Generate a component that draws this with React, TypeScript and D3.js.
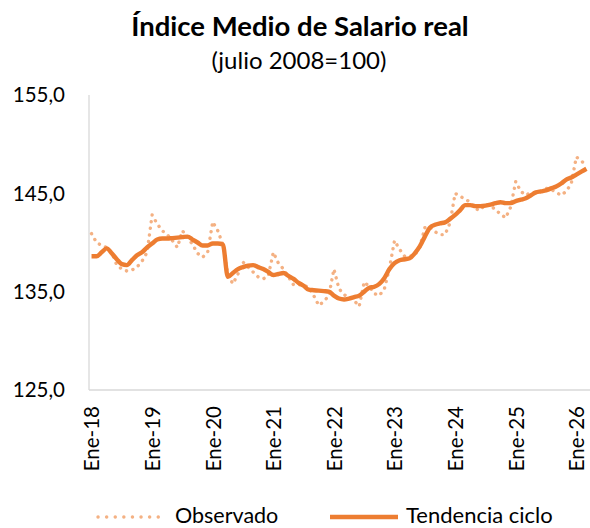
import React from "react";
import * as d3 from "d3";

const monthCount = 99; // Ene-18 .. Mar-26
const tickLabels = ["Ene-18", "Ene-19", "Ene-20", "Ene-21", "Ene-22", "Ene-23", "Ene-24", "Ene-25", "Ene-26"];
const yTicks = [125, 135, 145, 155];

const observado = [
  140.9, 140.0, 139.7, 139.5, 139.0, 137.7, 137.3, 137.1, 137.2, 137.5, 138.1, 139.0,
  142.8, 141.9, 141.2, 140.8, 140.2, 139.5, 141.2, 140.5, 139.8, 138.9, 138.5, 139.0,
  142.1, 141.2, 139.8, 136.7, 135.8, 136.8, 138.0, 137.5, 137.0, 136.5, 136.3, 136.6,
  139.0, 137.9, 137.3, 136.5, 135.7, 135.7, 135.7, 135.4, 134.6, 133.6, 134.0, 134.6,
  137.3, 135.3, 134.7, 134.4, 134.1, 133.5, 136.0, 135.5, 134.8, 134.6, 135.3, 137.4,
  140.2, 139.3, 138.6, 138.6, 138.7, 139.5, 141.5, 141.6, 141.1, 140.8, 140.8, 142.0,
  145.0, 144.7, 144.4, 144.1, 143.4, 143.3, 143.9, 143.8, 143.3, 142.9, 142.5, 143.6,
  146.2, 145.2, 144.8, 145.1, 145.1, 145.2, 145.5, 145.4, 145.1, 144.8, 145.2, 146.0,
  148.7, 148.3, 147.8,
];

const tendencia = [
  138.6, 138.6, 139.0, 139.4, 138.9, 138.3, 137.8, 137.7, 138.2, 138.7, 139.0, 139.5,
  139.9, 140.3, 140.4, 140.4, 140.45, 140.5, 140.55, 140.6, 140.3, 140.0, 139.7, 139.7,
  139.9, 139.9, 139.8, 136.5, 136.9, 137.3, 137.5, 137.65, 137.7, 137.5, 137.3, 137.0,
  136.7, 136.8, 136.9, 136.6, 136.3, 135.9, 135.6, 135.2, 135.15, 135.1, 135.05, 135.0,
  134.6, 134.3, 134.2, 134.3, 134.45, 134.6, 135.0, 135.4, 135.5, 135.8, 136.4, 137.3,
  137.9, 138.2, 138.3, 138.4, 138.9, 139.6, 140.6, 141.5, 141.8, 141.95, 142.05, 142.4,
  142.8, 143.3, 143.8, 143.8, 143.7, 143.7, 143.75, 143.85, 144.0, 144.1, 144.0, 144.0,
  144.2, 144.35, 144.5, 144.8, 145.1, 145.2, 145.3, 145.5, 145.7, 146.0, 146.4, 146.6,
  146.9, 147.2, 147.5,
];

const months = d3.range(monthCount);

const W = 590;
const H = 528;
const plot = { left: 89, top: 95, bottom: 390 };
const FONT = "Lato, 'Open Sans', sans-serif";

export default function App() {
  const x = d3
    .scaleBand<number>()
    .domain(months)
    .range([plot.left, plot.left + 5.05 * monthCount])
    .padding(0);
  const cx = (i: number) => (x(i) as number) + x.bandwidth() / 2;
  const y = d3.scaleLinear().domain([125, 155]).range([plot.bottom, plot.top]);

  const line = d3
    .line<number>()
    .x((_, i) => cx(i))
    .y((d) => y(d))
    .curve(d3.curveMonotoneX);
  const lineStraight = d3
    .line<number>()
    .x((_, i) => cx(i))
    .y((d) => y(d));

  const fmt = (v: number) => v.toFixed(1).replace(".", ",");
  const obsColor = "#F4B183";
  const trendColor = "#ED7D31";
  const legendY = 515;

  return (
    <svg width={W} height={H} style={{ position: "absolute", left: 0, top: 0, background: "#fff" }} fontFamily={FONT}>
      <rect x={0} y={0} width={W} height={H} fill="#fff" />
      <text x={300} y={36} textAnchor="middle" fontSize={27.5} fontWeight={700} fill="#000">
        Índice Medio de Salario real
      </text>
      <text x={299} y={69} textAnchor="middle" fontSize={24} fill="#000">
        (julio 2008=100)
      </text>

      {/* axes */}
      <line x1={plot.left} x2={plot.left} y1={plot.top} y2={plot.bottom} stroke="#d9d9d9" strokeWidth={1.3} />
      <line x1={plot.left} x2={W} y1={plot.bottom} y2={plot.bottom} stroke="#d9d9d9" strokeWidth={1.3} />

      {yTicks.map((t) => (
        <text key={t} x={65} y={y(t)} dy="0.36em" textAnchor="end" fontSize={20.5} fill="#000">
          {fmt(t)}
        </text>
      ))}

      {tickLabels.map((lab, j) => {
        const i = j * 12;
        const px = cx(i);
        return (
          <text
            key={lab}
            transform={`translate(${px + 0.5},${plot.bottom + 16}) rotate(-90)`}
            textAnchor="end"
            dy="0.36em"
            fontSize={20.5}
            fill="#000"
          >
            {lab}
          </text>
        );
      })}

      <path
        d={lineStraight(observado) || ""}
        fill="none"
        stroke={obsColor}
        strokeWidth={3.4}
        strokeLinecap="round"
        strokeDasharray="0.1 6.6"
      />
      <path d={line(tendencia) || ""} fill="none" stroke={trendColor} strokeWidth={4.4} strokeLinejoin="round" />

      {/* legend */}
      <line x1={98} x2={166} y1={legendY + 2} y2={legendY + 2} stroke={obsColor} strokeWidth={3.4} strokeLinecap="round" strokeDasharray="0.1 8.5" />
      <text x={175} y={legendY} dy="0.36em" fontSize={21.5} fill="#000">
        Observado
      </text>
      <line x1={330} x2={398} y1={legendY + 2} y2={legendY + 2} stroke={trendColor} strokeWidth={4.4} />
      <text x={406} y={legendY} dy="0.36em" fontSize={22} fill="#000">
        Tendencia ciclo
      </text>
    </svg>
  );
}
